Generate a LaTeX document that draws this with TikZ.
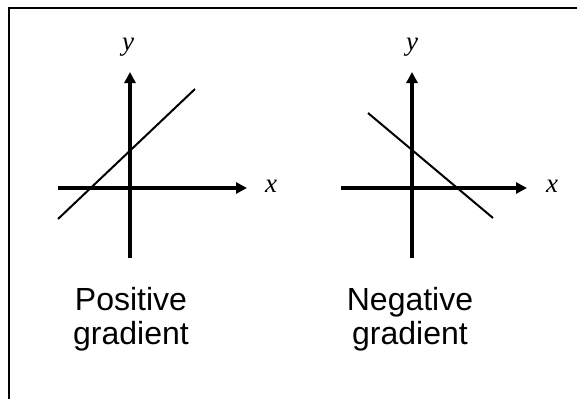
\documentclass[tikz,border=0pt]{standalone}
\usepackage{fontspec}
\setmainfont{Liberation Sans}
\newfontfamily\lblfont{Liberation Serif}
\usepackage{tikz}
\usetikzlibrary{arrows.meta}

\begin{document}
\begin{tikzpicture}[x=1pt, y=-1pt,
  axis/.style={line width=3.6pt, -{Triangle[length=11pt, width=11pt]}},
  graph/.style={line width=2pt},
  lbl/.style={font=\lblfont\itshape\fontsize{27}{30}\selectfont, inner sep=0pt},
  caption/.style={align=center, font=\fontsize{32}{34}\selectfont, inner sep=0pt}]
\useasboundingbox (0,0) rectangle (577,399);

% frame: only top and left edges show
\draw[line width=2pt] (8.5,399) -- (8.5,7.5) -- (577,7.5);

% left: positive gradient
\coordinate (pxa) at (58,188);
\coordinate (pxb) at (247,188);
\coordinate (pya) at (130,258);
\coordinate (pyb) at (130,72);
\coordinate (pla) at (58,219);
\coordinate (plb) at (195,89);
\node[lbl] (py) at (128,47) {y};
\node[lbl] (px) at (271,186) {x};
\draw[axis] (pxa) -- (pxb);
\draw[axis] (pya) -- (pyb);
\draw[graph] (pla) -- (plb);
\node[caption] (pos) at (131,319) {Positive\\gradient};

% right: negative gradient
\coordinate (nxa) at (341,188);
\coordinate (nxb) at (527,188);
\coordinate (nya) at (412,258);
\coordinate (nyb) at (412,72);
\coordinate (nla) at (368,113);
\coordinate (nlb) at (493,218);
\node[lbl] (ny) at (412,47) {y};
\node[lbl] (nx) at (552,186) {x};
\draw[axis] (nxa) -- (nxb);
\draw[axis] (nya) -- (nyb);
\draw[graph] (nla) -- (nlb);
\node[caption] (neg) at (410,319) {Negative\\gradient};
\end{tikzpicture}
\end{document}
